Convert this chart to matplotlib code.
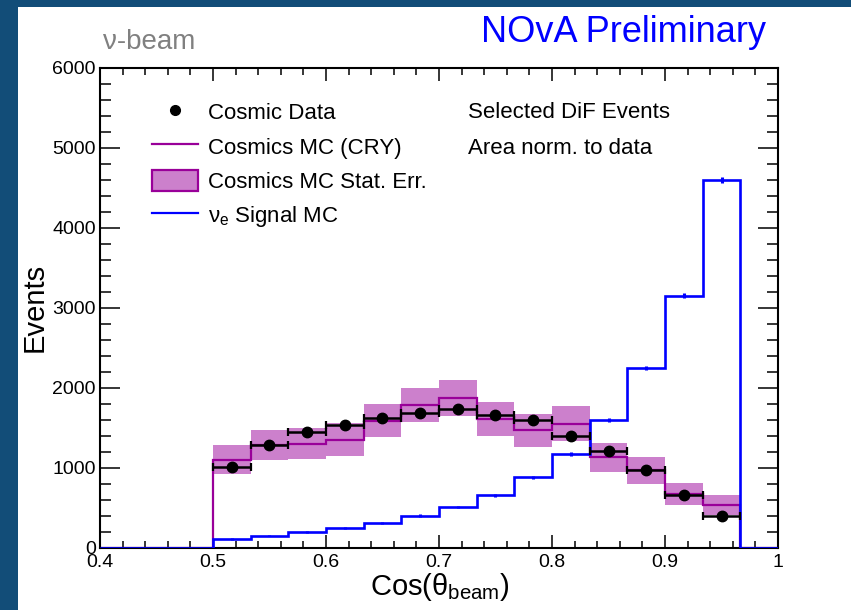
import numpy as np
import matplotlib
matplotlib.use("Agg")
import matplotlib.pyplot as plt
from matplotlib.patches import Rectangle, Patch
from matplotlib.lines import Line2D
from matplotlib.ticker import FixedLocator, MultipleLocator, FixedFormatter

plt.rcParams['font.family'] = ['Liberation Sans', 'DejaVu Sans']
plt.rcParams['mathtext.fontset'] = 'custom'
plt.rcParams['mathtext.rm'] = 'Liberation Sans'
plt.rcParams['mathtext.it'] = 'Liberation Sans:italic'
plt.rcParams['mathtext.bf'] = 'Liberation Sans:bold'

# ---- data ----
bin_edges = [0.4 + i / 30 for i in range(19)]          # 18 bins of width 1/30
first_bin = 3                                           # index of bin starting at 0.5
cosmic_data = [1010, 1290, 1450, 1540, 1620, 1690, 1740, 1660, 1605, 1395, 1210, 975, 665, 405]
cosmic_mc = [1105, 1290, 1305, 1355, 1590, 1787, 1875, 1614, 1473, 1555, 1135, 970, 672, 535]
cosmic_mc_err = [177, 190, 190, 205, 208, 218, 229, 214, 208, 214, 181, 166, 140, 125]
signal_mc = [115, 155, 195, 245, 310, 405, 510, 660, 885, 1175, 1600, 2250, 3155, 4600]
signal_err = [10, 10, 12, 12, 14, 15, 16, 18, 20, 22, 25, 28, 32, 36]
xtick_vals = [0.4, 0.5, 0.6, 0.7, 0.8, 0.9, 1.0]
xtick_labels = ["0.4", "0.5", "0.6", "0.7", "0.8", "0.9", "1"]
ytick_vals = [0, 1000, 2000, 3000, 4000, 5000, 6000]
ytick_labels = ["0", "1000", "2000", "3000", "4000", "5000", "6000"]

legend_labels = ["Cosmic Data", "Cosmics MC (CRY)", "Cosmics MC Stat. Err.",
                 r"$\mathrm{\nu_e}$ Signal MC"]

PURPLE = "#990099"
BAND = "#cc80cc"
BLUE = "#0000ff"
BG = "#124d78"

edges = np.array(bin_edges)
n = len(cosmic_data)
nb = len(edges) - 1
lo = edges[first_bin:first_bin + n]
hi = edges[first_bin + 1:first_bin + n + 1]
centers = 0.5 * (lo + hi)
width = hi - lo

full_mc = np.zeros(nb)
full_mc[first_bin:first_bin + n] = cosmic_mc
full_sig = np.zeros(nb)
full_sig[first_bin:first_bin + n] = signal_mc

W, H = 851, 610
fig = plt.figure(figsize=(W / 100, H / 100), dpi=100, facecolor=BG)
fig.patches.append(Rectangle((18 / W, 0), (W - 18) / W, (H - 7) / H,
                             transform=fig.transFigure, facecolor="white",
                             edgecolor="none", zorder=-10))

ax = fig.add_axes([100 / W, 1 - 548 / H, 678 / W, 480 / H])
ax.set_facecolor("white")

# MC stat error band
ax.bar(lo, 2 * np.array(cosmic_mc_err), width=width,
       bottom=np.array(cosmic_mc) - np.array(cosmic_mc_err),
       align='edge', color=BAND, edgecolor='none', zorder=1)
# MC line
ax.stairs(full_mc, edges, color=PURPLE, linewidth=1.6, zorder=2)
# signal
ax.stairs(full_sig, edges, color=BLUE, linewidth=1.9, zorder=3)
ax.errorbar(centers, signal_mc, yerr=signal_err, fmt='none', ecolor=BLUE,
            elinewidth=2.2, capsize=0, zorder=3)
# data
ax.errorbar(centers, cosmic_data, xerr=width / 2, fmt='o', color='black',
            ms=7.5, elinewidth=1.8, capsize=3.2, capthick=1.6, zorder=5)

ax.set_xlim(0.4, 1.0)
ax.set_ylim(0, 6000)

ax.xaxis.set_major_locator(FixedLocator(xtick_vals))
ax.xaxis.set_major_formatter(FixedFormatter(xtick_labels))
ax.xaxis.set_minor_locator(MultipleLocator(0.02))
ax.yaxis.set_major_locator(FixedLocator(ytick_vals))
ax.yaxis.set_major_formatter(FixedFormatter(ytick_labels))
ax.yaxis.set_minor_locator(MultipleLocator(200))

ax.tick_params(axis='both', which='both', direction='in', top=True, right=True,
               width=1.1, color='black', labelsize=14)
ax.tick_params(axis='x', which='major', length=9.5, pad=4.5)
ax.tick_params(axis='x', which='minor', length=5)
ax.tick_params(axis='y', which='major', length=14.5, pad=3)
ax.tick_params(axis='y', which='minor', length=8)
for s in ax.spines.values():
    s.set_linewidth(1.5)

handles = [
    Line2D([], [], marker='o', color='black', linestyle='none', ms=7),
    Line2D([], [], color=PURPLE, linewidth=1.6),
    Patch(facecolor=BAND, edgecolor=PURPLE, linewidth=1.6),
    Line2D([], [], color=BLUE, linewidth=1.6),
]
ax.legend(handles, legend_labels, loc='upper left',
          bbox_to_anchor=((152 - 100) / 678, (548 - 101) / 480),
          frameon=False, fontsize=16, borderpad=0, borderaxespad=0,
          handlelength=2.05, handleheight=1.1, handletextpad=0.45,
          labelspacing=0.5)

ax.text((468 - 100) / 678, (548 - 113) / 480, "Selected DiF Events",
        transform=ax.transAxes, fontsize=16, va='center', ha='left')
ax.text((468 - 100) / 678, (548 - 148) / 480, "Area norm. to data",
        transform=ax.transAxes, fontsize=16, va='center', ha='left')

fig.text(103 / W, 1 - 42 / H, "ν-beam", fontsize=20, color='#808080',
         ha='left', va='center')
fig.text(766 / W, 1 - 33 / H, "NOvA Preliminary", fontsize=26, color=BLUE,
         ha='right', va='center')
fig.text(35 / W, 1 - 307 / H, "Events", fontsize=21, rotation=90,
         ha='center', va='center')
fig.text(440 / W, 1 - 587 / H, r"Cos($\mathrm{\theta_{beam}}$)", fontsize=21,
         ha='center', va='center')

fig.savefig("out.png", dpi=100, facecolor=fig.get_facecolor())
